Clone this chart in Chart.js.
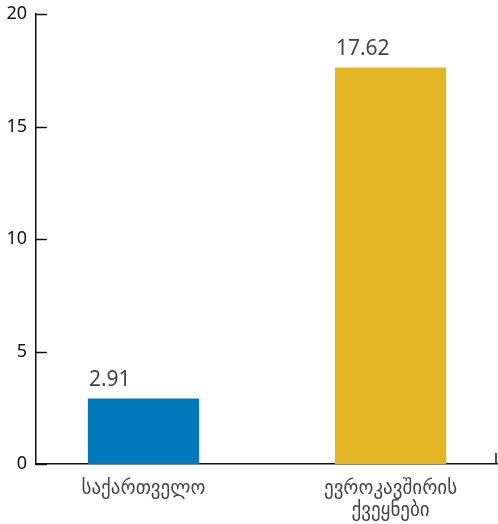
<!DOCTYPE html>
<html>
<head>
<meta charset="utf-8">
<script src="https://cdn.jsdelivr.net/npm/chart.js@4"></script>
<style>
    html, body { margin: 0; padding: 0; background: #fff; }
    #wrap { width: 498px; height: 524px; }
</style>
</head>
<body>
<div id="wrap"><canvas id="chart"></canvas></div>
<script>
// chart data
const categories = ["საქართველო", ["ევროკავშირის", "ქვეყნები"]];
const values = [2.91, 17.62];
const barColors = ["#0079bc", "#e4b524"];
const yTicks = [0, 5, 10, 15, 20];

const FONT = "'Noto Sans', 'DejaVu Sans', sans-serif";

// -----------------------------
// value labels + inner tick marks
// -----------------------------
const decorations = {
    id: "decorations",
    afterDatasetsDraw(chart) {
        const ctx = chart.ctx;
        const area = chart.chartArea;
        const y = chart.scales.y;

        ctx.save();
        ctx.strokeStyle = "#111";
        ctx.lineWidth = 1.5;
        yTicks.forEach(t => {
            const py = Math.round(y.getPixelForValue(t)) + 0.5;
            ctx.beginPath();
            ctx.moveTo(area.left, py);
            ctx.lineTo(area.left + 11, py);
            ctx.stroke();
        });

        // small end tick on the right of the x axis
        ctx.beginPath();
        ctx.moveTo(area.right - 1, area.bottom);
        ctx.lineTo(area.right - 1, area.bottom - 11);
        ctx.stroke();

        ctx.font = "21px " + FONT;
        ctx.fillStyle = "#444";
        ctx.textAlign = "left";
        ctx.textBaseline = "bottom";
        chart.getDatasetMeta(0).data.forEach((bar, i) => {
            const left = bar.x - bar.width / 2;
            ctx.fillText(values[i].toFixed(2), left + 1, bar.y - 8);
        });
        ctx.restore();
    }
};

new Chart(document.getElementById("chart"), {
    type: "bar",
    data: {
        datasets: [{
            data: values.map((v, i) => ({ x: i, y: v })),
            backgroundColor: barColors,
            barPercentage: 0.45,
            categoryPercentage: 1
        }]
    },
    options: {
        responsive: true,
        maintainAspectRatio: false,
        animation: false,
        layout: { padding: { top: 14, right: 1, left: 0, bottom: 0 } },
        plugins: {
            legend: { display: false },
            tooltip: { enabled: false }
        },
        scales: {
            x: {
                type: "linear",
                offset: false,
                min: -0.435,
                max: 1.431,
                afterBuildTicks: (axis) => {
                    axis.ticks = categories.map((c, i) => ({ value: i }));
                },
                afterFit: (axis) => {
                    axis.height = 60;
                    axis.paddingLeft = 0;
                    axis.paddingRight = 0;
                },
                grid: { display: false, drawTicks: false, offset: false },
                border: { display: true, color: "#111", width: 1.5 },
                ticks: {
                    padding: 14,
                    color: "#444",
                    font: { family: FONT, size: 19, lineHeight: 1.15 },
                    maxRotation: 0,
                    callback: (v) => categories[v]
                }
            },
            y: {
                min: 0,
                max: 20,
                afterBuildTicks: (axis) => {
                    axis.ticks = yTicks.map(v => ({ value: v }));
                },
                afterFit: (axis) => {
                    axis.width = 36;
                    axis.paddingTop = 0;
                    axis.paddingBottom = 0;
                },
                grid: { display: false, drawTicks: false },
                border: { display: true, color: "#111", width: 1.5 },
                ticks: {
                    padding: 9,
                    color: "#111",
                    font: { family: FONT, size: 18 }
                }
            }
        }
    },
    plugins: [decorations]
});
</script>
</body>
</html>
